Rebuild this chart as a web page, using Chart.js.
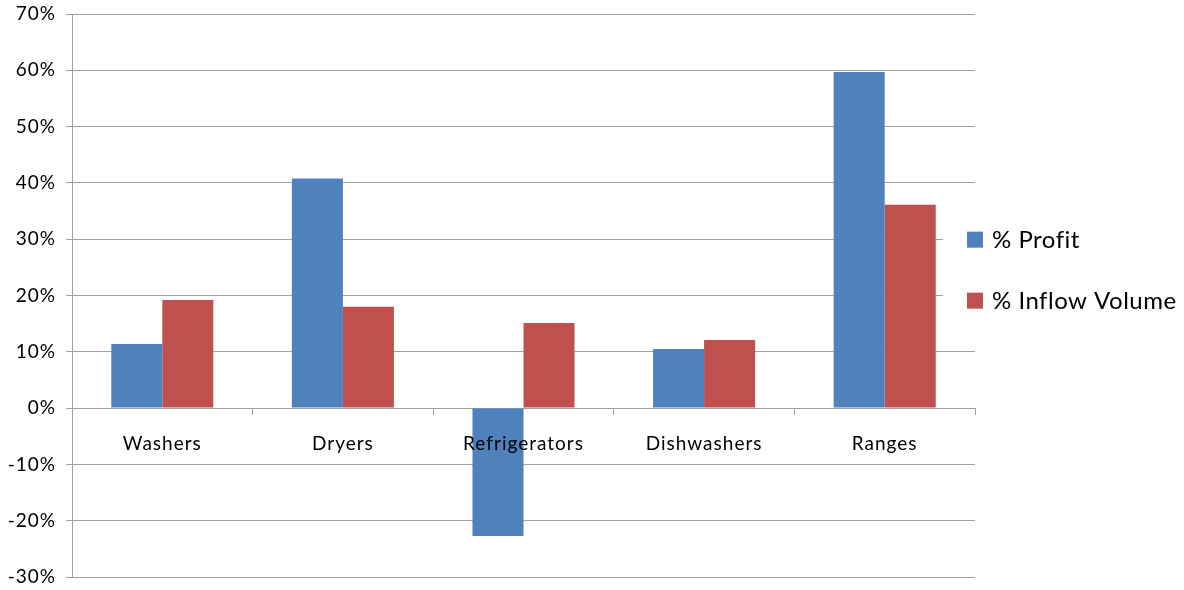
<!DOCTYPE html>
<html>
<head>
<meta charset="utf-8">
<script src="https://cdn.jsdelivr.net/npm/chart.js@4.4.1/dist/chart.umd.min.js"></script>
<style>
  html, body { margin: 0; padding: 0; background: #fff; }
  #wrap { width: 1184px; height: 590px; }
</style>
</head>
<body>
<div id="wrap"><canvas id="chart"></canvas></div>
<script>
// Data
const categories = ['Washers', 'Dryers', 'Refrigerators', 'Dishwashers', 'Ranges'];
const profit = [11.4, 40.8, -22.7, 10.5, 59.7];
const inflow = [19.2, 18.0, 15.1, 12.1, 36.1];
const seriesNames = ['% Profit', '% Inflow Volume'];
const yMin = -30;
const yMax = 70;
const yStep = 10;

const colors = {
    blue: '#4F81BD',
    red: '#C0504D',
    grid: '#a0a0a0',
    text: '#000000'
};
const fontFamily = "Lato, 'Open Sans', sans-serif";

// Office-style text is a bit spaced out
const spacing = {
    id: 'spacing',
    beforeDraw(chart) { chart.ctx.letterSpacing = '1px'; }
};

// Excel-style legend sitting to the right of the plot, with white backing
const sideLegend = {
    id: 'sideLegend',
    afterDraw(chart) {
        const ctx = chart.ctx;
        const area = chart.chartArea;
        const boxX = area.right - 8;
        const midY = area.top + (area.bottom - area.top) * 0.455;
        const gap = 61;
        ctx.save();
        ctx.letterSpacing = '0.5px';
        ctx.fillStyle = '#fff';
        ctx.fillRect(area.right - 32, midY - gap, chart.width - area.right + 32, gap * 2);
        ctx.font = '24px ' + fontFamily;
        ctx.textBaseline = 'middle';
        ctx.textAlign = 'left';
        chart.data.datasets.forEach((ds, i) => {
            const y = midY + (i - 0.5) * gap;
            ctx.fillStyle = ds.backgroundColor;
            ctx.fillRect(boxX, y - 8, 16, 16);
            ctx.fillStyle = colors.text;
            ctx.fillText(ds.label, boxX + 25, y + 1);
        });
        ctx.restore();
    }
};

new Chart(document.getElementById('chart'), {
    type: 'bar',
    data: {
        labels: categories,
        datasets: [
            { label: seriesNames[0], data: profit, backgroundColor: colors.blue },
            { label: seriesNames[1], data: inflow, backgroundColor: colors.red }
        ]
    },
    options: {
        responsive: true,
        maintainAspectRatio: false,
        animation: false,
        categoryPercentage: 0.565,
        barPercentage: 1,
        layout: { padding: { top: 0, right: 209, bottom: 0, left: 0 } },
        plugins: {
            legend: { display: false },
            tooltip: { enabled: false }
        },
        scales: {
            x: {
                position: { y: 0 },
                grid: {
                    offset: true,
                    drawOnChartArea: false,
                    tickLength: 6,
                    color: colors.grid
                },
                border: { display: true, color: colors.grid },
                ticks: {
                    z: 1, // labels sit on top of the bars
                    padding: 18,
                    color: colors.text,
                    font: { family: fontFamily, size: 19 }
                }
            },
            y: {
                min: yMin,
                max: yMax,
                afterFit: (scale) => {
                    scale.width = 72;
                    scale.paddingTop = 14;
                    scale.paddingBottom = 13;
                },
                grid: { color: colors.grid, tickLength: 6 },
                border: { display: true, color: colors.grid },
                ticks: {
                    stepSize: yStep,
                    padding: 10,
                    color: colors.text,
                    font: { family: fontFamily, size: 19 },
                    callback: (v) => v + '%'
                }
            }
        }
    },
    plugins: [spacing, sideLegend]
});
</script>
</body>
</html>
